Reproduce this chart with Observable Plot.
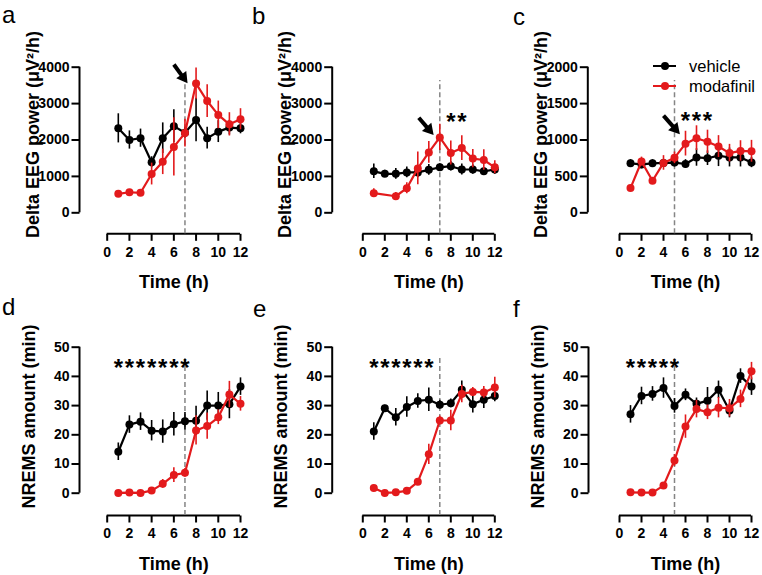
<!DOCTYPE html>
<html>
<head>
<meta charset="utf-8">
<script src="https://cdn.jsdelivr.net/npm/d3@7"></script>
<script src="https://cdn.jsdelivr.net/npm/@observablehq/plot@0.6"></script>
<style>
  body { margin: 0; background: #fff; }
  #fig { position: relative; width: 762px; height: 575px; overflow: hidden; background: #fff;
         font-family: "Liberation Sans", Arial, Helvetica, sans-serif; color: #000; }
  .panel { position: absolute; }
  .panel svg { overflow: visible; }
  .letter { position: absolute; font-size: 24px; line-height: 24px; }
  .legline { position: absolute; height: 2.4px; width: 23px; }
  .legdot { position: absolute; width: 8px; height: 8px; border-radius: 50%; }
  .legtext { position: absolute; font-size: 16.5px; line-height: 20px; white-space: nowrap; }
</style>
</head>
<body>
<div id="fig"></div>
<script>
// ---------------- data ----------------
const hours = [1, 2, 3, 4, 5, 6, 7, 8, 9, 10, 11, 12];
const xTicks = [0, 2, 4, 6, 8, 10, 12];
const deltaTicksAB = [0, 1000, 2000, 3000, 4000];
const deltaTicksC = [0, 500, 1000, 1500, 2000];
const nremTicks = [0, 10, 20, 30, 40, 50];
const seriesNames = ["vehicle", "modafinil"];
const panelLetters = ["a", "b", "c", "d", "e", "f"];
const xTitle = "Time (h)";
const deltaTitle = "Delta EEG power (\u03bcV\u00b2/h)";
const nremTitle = "NREMS amount (min)";

// panel a: delta EEG power
const aVehicleMean = [2320, 2000, 2050, 1390, 2050, 2380, 2200, 2550, 2050, 2230, 2340, 2320];
const aVehicleSem = [400, 250, 250, 150, 420, 450, 150, 600, 300, 300, 200, 150];
const aModafinilMean = [520, 565, 550, 1065, 1400, 1810, 2190, 3550, 3070, 2690, 2430, 2570];
const aModafinilSem = [60, 60, 60, 300, 350, 800, 380, 430, 450, 380, 320, 290];
// panel b
const bVehicleMean = [1140, 1070, 1070, 1110, 1110, 1180, 1250, 1280, 1190, 1190, 1140, 1190];
const bVehicleSem = [200, 100, 150, 150, 150, 150, 100, 130, 150, 130, 100, 130];
const bModafinilMean = [540, null, 455, 675, 1220, 1660, 2070, 1640, 1780, 1490, 1450, 1250];
const bModafinilSem = [120, null, 100, 150, 450, 300, 360, 330, 340, 250, 280, 180];
// panel c
const cVehicleMean = [680, 665, 680, 685, 690, 670, 760, 750, 785, 760, 760, 690];
const cVehicleSem = [50, 60, 50, 50, 60, 60, 120, 100, 150, 130, 130, 70];
const cModafinilMean = [340, 705, 440, 685, 755, 950, 1025, 975, 910, 820, 850, 845];
const cModafinilSem = [30, 60, 30, 100, 80, 170, 170, 160, 150, 120, 140, 150];
// panel d: NREMS amount
const dVehicleMean = [14.2, 23.5, 24.5, 21.4, 21.1, 23.6, 24.6, 24.8, 30.0, 30.0, 30.5, 36.5];
const dVehicleSem = [3, 3, 3, 3.5, 4, 4, 3, 5, 5, 4.5, 5, 3];
const dModafinilMean = [0.1, 0.2, 0.1, 0.9, 3.2, 6.2, 7.0, 21.5, 23.0, 26.0, 33.8, 30.6];
const dModafinilSem = [0.2, 0.2, 0.2, 0.5, 1.5, 2.5, 1.5, 5, 4.5, 2.5, 4.5, 2.5];
// panel e
const eVehicleMean = [21.1, 29.1, 26.0, 29.5, 31.6, 32.0, 30.3, 30.8, 35.4, 30.5, 32.0, 33.3];
const eVehicleSem = [3, 1, 3, 3.5, 2.5, 4, 1.5, 1.5, 3, 3, 3, 2];
const eModafinilMean = [1.8, 0.1, 0.3, 0.8, 3.9, 13.3, 24.9, 24.9, 34.0, 34.7, 34.5, 36.2];
const eModafinilSem = [0.5, 0.2, 0.3, 0.5, 1, 3.5, 1.5, 3.5, 3, 1.5, 2, 3.5];
// panel f
const fVehicleMean = [27.0, 33.3, 34.0, 36.0, 29.9, 33.7, 30.6, 31.7, 35.4, 28.3, 40.1, 36.5];
const fVehicleSem = [3, 3, 2.5, 3.5, 2.5, 2, 2, 4.5, 3, 2.5, 2.5, 3];
const fModafinilMean = [0.3, 0.2, 0.2, 2.6, 11.2, 22.8, 28.8, 27.7, 29.3, 29.1, 32.3, 41.8];
const fModafinilSem = [0.2, 0.2, 0.2, 1, 2, 4, 3, 2.5, 3.5, 3, 3, 3];

// significance (asterisks at hours) and injection/onset time
const bSigHours = [8, 9];
const cSigHours = [6, 7, 8];
const dSigHours = [1, 2, 3, 4, 5, 6, 7];
const eSigHours = [1, 2, 3, 4, 5, 6];
const fSigHours = [1, 2, 3, 4, 5];
const onsetABDE = 7;
const onsetCF = 5;

// ---------------- styles ----------------
const BLACK = "#000000";
const RED = "#e31a1c";
const FONT = "'Liberation Sans', Arial, Helvetica, sans-serif";

const fig = document.getElementById("fig");

function panel(cfg) {
  const g = cfg.geom;
  const pxPerHour = (g.x12 - g.x0) / 12;
  const xmin = -(g.x0 - g.yAxis) / pxPerHour;
  const pxPerUnit = (g.y0 - g.yTopPx) / cfg.yTop;
  const ymin = -(g.xAxis - g.y0) / pxPerUnit;
  const valY = (px) => (g.y0 - px) / pxPerUnit;
  const yTickLen = 8 / pxPerHour, xTickLen = 7 / pxPerUnit;

  const mk = (means, sems) => hours.map((h, i) => ({h, m: means[i], s: sems[i]})).filter(d => d.m != null);
  const veh = mk(cfg.vehMean, cfg.vehSem);
  const mod = mk(cfg.modMean, cfg.modSem);

  const series = (data, color) => [
    Plot.ruleX(data, {x: "h", y1: d => d.m - d.s, y2: d => d.m + d.s, stroke: color, strokeWidth: 1.6}),
    Plot.line(data, {x: "h", y: "m", stroke: color, strokeWidth: 2.2}),
    Plot.dot(data, {x: "h", y: "m", r: 4, fill: color})
  ];

  const marks = [
    // axis lines
    Plot.ruleX([xmin], {y1: 0, y2: cfg.yTop, stroke: BLACK, strokeWidth: 2}),
    Plot.ruleY([ymin], {x1: 0, x2: 12, stroke: BLACK, strokeWidth: 2}),
    // y ticks + labels
    Plot.link(cfg.yTicks, {x1: xmin - yTickLen, x2: xmin, y1: d => d, y2: d => d, stroke: BLACK, strokeWidth: 2}),
    Plot.text(cfg.yTicks, {x: xmin, y: d => d, dx: -10, text: d => String(d), textAnchor: "end",
                lineAnchor: "middle", fontSize: 14, fontWeight: "bold", fill: BLACK}),
    // x ticks + labels
    Plot.link(xTicks, {x1: d => d, x2: d => d, y1: ymin, y2: ymin - xTickLen, stroke: BLACK, strokeWidth: 2}),
    Plot.text(xTicks, {x: d => d, y: ymin, dy: 13, text: d => String(d), lineAnchor: "top",
                fontSize: 14, fontWeight: "bold", fill: BLACK}),
    Plot.ruleX([cfg.onset], {y1: ymin, y2: valY(g.dashTopPx), stroke: "#858585",
                strokeWidth: 1.5, strokeDasharray: "5,3"}),
    ...series(veh, BLACK),
    ...series(mod, RED),
    Plot.text([xTitle], {x: 6, frameAnchor: "bottom", dy: 54.6, lineAnchor: "bottom",
                fontSize: 18, fontWeight: "bold", fill: BLACK}),
    Plot.text([cfg.yTitle], {y: valY(g.yTitleCenterPx), frameAnchor: "left", dx: -g.titleGap, rotate: -90,
                lineAnchor: "bottom", textAnchor: "middle", fontSize: 18, fontWeight: "bold", fill: BLACK})
  ];
  if (cfg.sig) {
    marks.push(Plot.text(cfg.sig, {x: d => d, y: valY(g.sigPx), text: () => "*", fontSize: 24,
                fontWeight: "bold", lineAnchor: "middle", fill: BLACK}));
  }
  if (cfg.arrow) {
    const a = cfg.arrow;
    const dxp = (a.x2 - a.x1) * pxPerHour, dyp = -(a.y2 - a.y1) * pxPerUnit;
    const len = Math.hypot(dxp, dyp);
    const ux = dxp / len, uy = dyp / len;
    const back = 6.5;
    const cx = a.x2 - back * ux / pxPerHour, cy = a.y2 + back * uy / pxPerUnit;
    const ang = Math.atan2(dyp, dxp) * 180 / Math.PI + 90;
    marks.push(Plot.link([a], {x1: "x1", y1: "y1", x2: () => cx, y2: () => cy, stroke: BLACK, strokeWidth: 4}));
    marks.push(Plot.dot([a], {x: () => cx, y: () => cy, symbol: "triangle", r: 4.6, fill: BLACK, rotate: ang}));
  }

  const svg = Plot.plot({
    width: g.W, height: g.H,
    marginLeft: g.yAxis - g.L,
    marginRight: g.L + g.W - g.x12,
    marginTop: g.yTopPx - g.T,
    marginBottom: g.T + g.H - g.xAxis,
    x: {domain: [xmin, 12], axis: null},
    y: {domain: [ymin, cfg.yTop], axis: null},
    style: {fontFamily: FONT, color: BLACK, background: "transparent", overflow: "visible"},
    marks
  });
  const wrap = document.createElement("div");
  wrap.className = "panel";
  wrap.style.left = g.L + "px";
  wrap.style.top = g.T + "px";
  wrap.appendChild(svg);
  fig.appendChild(wrap);
}

const topGeom = {T: 0, H: 290, y0: 212.3, yTopPx: 66.7, xAxis: 233.3, dashTopPx: 80, yTitleCenterPx: 134, titleGap: 41};
const botGeom = {T: 290, H: 285, y0: 492.7, yTopPx: 346.7, xAxis: 515, dashTopPx: 358, yTitleCenterPx: 416, titleGap: 45, sigPx: 368};

panel({geom: {...topGeom, L: 0, W: 254, yAxis: 79, x0: 106.7, x12: 240},
  yTop: 4000, yTicks: deltaTicksAB, yTitle: deltaTitle, onset: onsetABDE,
  vehMean: aVehicleMean, vehSem: aVehicleSem, modMean: aModafinilMean, modSem: aModafinilSem,
  arrow: {x1: 6.0, y1: 4074, x2: 7.2, y2: 3571}});
panel({geom: {...topGeom, L: 254, W: 254, yAxis: 331.7, x0: 362.3, x12: 494.3, sigPx: 122},
  yTop: 4000, yTicks: deltaTicksAB, yTitle: deltaTitle, onset: onsetABDE, sig: bSigHours,
  vehMean: bVehicleMean, vehSem: bVehicleSem, modMean: bModafinilMean, modSem: bModafinilSem,
  arrow: {x1: 5.09, y1: 2610, x2: 6.4, y2: 2151}});
panel({geom: {...topGeom, L: 508, W: 254, yAxis: 587.3, x0: 619, x12: 751, sigPx: 120.5},
  yTop: 2000, yTicks: deltaTicksC, yTitle: deltaTitle, onset: onsetCF, sig: cSigHours,
  vehMean: cVehicleMean, vehSem: cVehicleSem, modMean: cModafinilMean, modSem: cModafinilSem,
  arrow: {x1: 4.0, y1: 1334, x2: 5.45, y2: 1086}});
panel({geom: {...botGeom, L: 0, W: 254, yAxis: 79, x0: 106.7, x12: 240},
  yTop: 50, yTicks: nremTicks, yTitle: nremTitle, onset: onsetABDE, sig: dSigHours,
  vehMean: dVehicleMean, vehSem: dVehicleSem, modMean: dModafinilMean, modSem: dModafinilSem});
panel({geom: {...botGeom, L: 254, W: 254, yAxis: 331.7, x0: 362.3, x12: 494.3},
  yTop: 50, yTicks: nremTicks, yTitle: nremTitle, onset: onsetABDE, sig: eSigHours,
  vehMean: eVehicleMean, vehSem: eVehicleSem, modMean: eModafinilMean, modSem: eModafinilSem});
panel({geom: {...botGeom, L: 508, W: 254, yAxis: 588, x0: 619, x12: 751},
  yTop: 50, yTicks: nremTicks, yTitle: nremTitle, onset: onsetCF, sig: fSigHours,
  vehMean: fVehicleMean, vehSem: fVehicleSem, modMean: fModafinilMean, modSem: fModafinilSem});

// panel letters
const letterPos = [[2, 3], [252, 4], [513, 5], [2, 295], [253, 297], [513, 297]];
panelLetters.forEach((t, i) => {
  const d = document.createElement("div");
  d.className = "letter";
  d.textContent = t;
  d.style.left = letterPos[i][0] + "px";
  d.style.top = letterPos[i][1] + "px";
  fig.appendChild(d);
});

// legend (panel c)
const legColors = [BLACK, RED];
seriesNames.forEach((name, i) => {
  const cy = 66 + i * 20;
  const line = document.createElement("div");
  line.className = "legline";
  line.style.left = "653px"; line.style.top = (cy - 1.2) + "px"; line.style.background = legColors[i];
  const dot = document.createElement("div");
  dot.className = "legdot";
  dot.style.left = "661px"; dot.style.top = (cy - 4) + "px"; dot.style.background = legColors[i];
  const txt = document.createElement("div");
  txt.className = "legtext";
  txt.textContent = name;
  txt.style.left = "689px"; txt.style.top = (cy - 10) + "px";
  fig.append(line, dot, txt);
});
</script>
</body>
</html>
